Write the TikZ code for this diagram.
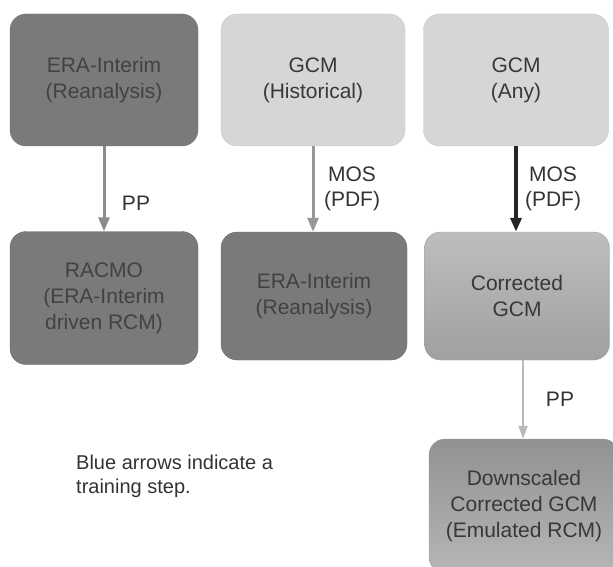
\documentclass[tikz,border=0pt]{standalone}
\usepackage{fontspec}
\setmainfont{Liberation Sans}
\usetikzlibrary{shapes,arrows.meta,positioning,calc}
\definecolor{boxdark}{RGB}{122,122,122}
\definecolor{boxlight}{RGB}{214,214,214}
\definecolor{boxmid}{RGB}{178,178,178}
\definecolor{txtdark}{RGB}{66,66,66}
\definecolor{txtdeep}{RGB}{56,56,56}
\definecolor{arrowgray}{RGB}{140,140,140}
\definecolor{arrowlight}{RGB}{185,185,185}

\begin{document}
\begin{tikzpicture}[x=1pt,y=-1pt,
    box/.style={rectangle, rounded corners=16pt, minimum width=188pt, minimum height=132pt,
        align=center, inner sep=0pt, font=\fontsize{21}{26}\selectfont},
    darkbox/.style={box, fill=boxdark, draw=boxdark!90!black, text=txtdark},
    lightbox/.style={box, fill=boxlight, draw=boxlight!92!black, text=txtdeep},
    midbox/.style={box, top color=boxmid!85!white, bottom color=boxmid!90!black, draw=boxmid!90!black, text=txtdeep},
    lbl/.style={align=center, inner sep=0pt, font=\fontsize{21}{25}\selectfont, text=black!80}]
    \useasboundingbox (0,0) rectangle (613,567);
    % top row
    \node[darkbox] (eraTop) at (104,80) {ERA-Interim\\(Reanalysis)};
    \node[lightbox, minimum width=184pt] (gcmHist) at (313,80) {GCM\\(Historical)};
    \node[lightbox, minimum width=185pt] (gcmAny) at (516,80) {GCM\\(Any)};
    % middle row
    \node[darkbox, minimum height=133pt] (racmo) at (104,298) {RACMO\\(ERA-Interim\\driven RCM)};
    \node[darkbox, minimum width=186pt, minimum height=128pt] (eraBot) at (314,296) {ERA-Interim\\(Reanalysis)};
    \node[midbox, minimum width=185pt, minimum height=128pt] (corrGcm) at (517,296) {Corrected\\GCM};
    % bottom row
    \node[midbox, minimum width=190pt, minimum height=134pt,
        top color=boxmid!75!black!90, bottom color=boxmid!95!white] (downGcm) at (524,506)
        {Downscaled\\Corrected GCM\\(Emulated RCM)};
    % arrows
    \draw[-{Triangle[length=14pt,width=11pt]}, line width=3pt, arrowgray] (eraTop) -- (racmo);
    \draw[-{Triangle[length=14pt,width=11pt]}, line width=3pt, arrowgray!90] (gcmHist.south) -- (gcmHist.south |- eraBot.north);
    \draw[-{Triangle[length=14pt,width=11pt]}, line width=3.5pt, black!85] (gcmAny.south) -- (gcmAny.south |- corrGcm.north);
    \draw[-{Triangle[length=13pt,width=9pt]}, line width=2pt, arrowlight] ($(corrGcm.south)+(6,0)$) coordinate (ppStart) -- (ppStart |- downGcm.north);
    % labels
    \node[lbl] (ppLeft) at (136,203) {PP};
    \node[lbl] (mosHist) at (352,189) {MOS\\(PDF)};
    \node[lbl] (mosAny) at (553,189) {MOS\\(PDF)};
    \node[lbl] (ppRight) at (560,399) {PP};
    % note
    \node[anchor=north west, align=left, inner sep=0pt, font=\fontsize{20}{24}\selectfont, text=black!80] (note) at (76,455)
        {Blue arrows indicate a\\training step.};
\end{tikzpicture}
\end{document}
